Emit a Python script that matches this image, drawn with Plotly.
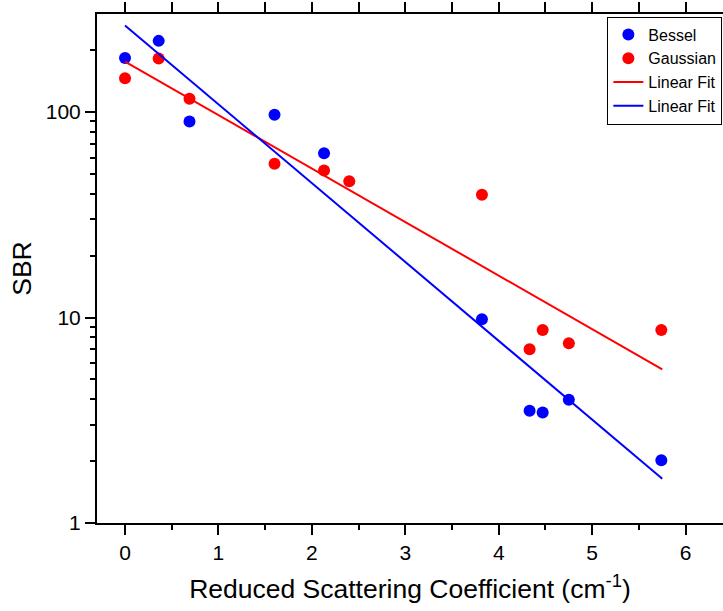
import plotly.graph_objects as go
import math

# ---- data ----
bessel_x = [0.0, 0.36, 0.69, 1.60, 2.13, 3.82, 4.33, 4.47, 4.75, 5.74]
bessel_y = [183, 222, 90, 97, 63, 9.8, 3.52, 3.45, 3.98, 2.02]

gauss_x = [0.0, 0.36, 0.69, 1.60, 2.13, 2.40, 3.82, 4.33, 4.47, 4.75, 5.74]
gauss_y = [146, 182, 116, 56, 52, 46, 39.6, 7.0, 8.7, 7.5, 8.7]

fit_x = [0.0, 5.75]
fit_gauss_y = [176, 5.6]
fit_bessel_y = [264, 1.64]

x_range = [-0.3, 6.4]
y_range_vals = [1, 300]
y_major = [1, 10, 100]
y_minor = [2, 3, 4, 5, 6, 7, 8, 9, 20, 30, 40, 50, 60, 70, 80, 90, 200]

FONT = "Liberation Sans, Arial, sans-serif"

fig = go.Figure()
fig.add_trace(go.Scatter(x=bessel_x, y=bessel_y, mode="markers", name="Bessel",
                         marker=dict(color="#0000ff", size=12)))
fig.add_trace(go.Scatter(x=gauss_x, y=gauss_y, mode="markers", name="Gaussian",
                         marker=dict(color="#ff0000", size=12)))
fig.add_trace(go.Scatter(x=fit_x, y=fit_gauss_y, mode="lines", name="Linear Fit",
                         line=dict(color="#ff0000", width=2)))
fig.add_trace(go.Scatter(x=fit_x, y=fit_bessel_y, mode="lines", name="Linear Fit",
                         line=dict(color="#0000ff", width=2)))
# helper trace so the top (mirror) axis is drawn
fig.add_trace(go.Scatter(x=[x_range[0]], y=[1], xaxis="x2", mode="markers",
                         marker=dict(opacity=0), showlegend=False, hoverinfo="skip"))

fig.update_layout(
    width=723, height=611,
    margin=dict(l=97, r=0, t=14, b=88),
    plot_bgcolor="white", paper_bgcolor="white",
    font=dict(family=FONT, color="black"),
    showlegend=True,
    legend=dict(x=0.999, xanchor="right", y=0.995, yanchor="top",
                bordercolor="black", borderwidth=1, bgcolor="white",
                font=dict(size=16, family=FONT), tracegroupgap=0),
    xaxis=dict(range=x_range, showline=True, linecolor="black", linewidth=2,
               showgrid=False, zeroline=False, ticks="outside", ticklen=10,
               tickwidth=2, tickcolor="black", dtick=1, tick0=0,
               tickfont=dict(size=21),
               minor=dict(dtick=0.5, tick0=0, ticks="outside", ticklen=5,
                          tickwidth=2, tickcolor="black"),
               title=dict(text="Reduced Scattering Coefficient (cm<sup>-1</sup>)",
                          font=dict(size=26.5), standoff=16)),
    xaxis2=dict(range=x_range, overlaying="x", side="top", showline=True,
                linecolor="black", linewidth=2, showgrid=False, zeroline=False,
                ticks="outside", ticklen=10, tickwidth=2, tickcolor="black",
                dtick=0.5, tick0=0, showticklabels=False),
    yaxis=dict(type="log", range=[math.log10(v) for v in y_range_vals],
               showline=True, linecolor="black", linewidth=2, showgrid=False,
               zeroline=False, ticks="outside", ticklen=10, tickwidth=2,
               tickcolor="black", tickmode="array", tickvals=y_major,
               ticktext=[str(v) for v in y_major], tickfont=dict(size=21),
               minor=dict(tickmode="array", tickvals=y_minor, ticks="outside",
                          ticklen=5, tickwidth=2, tickcolor="black"),
               title=dict(text="SBR", font=dict(size=26.5), standoff=6)),
)

fig.write_html("out.html")
